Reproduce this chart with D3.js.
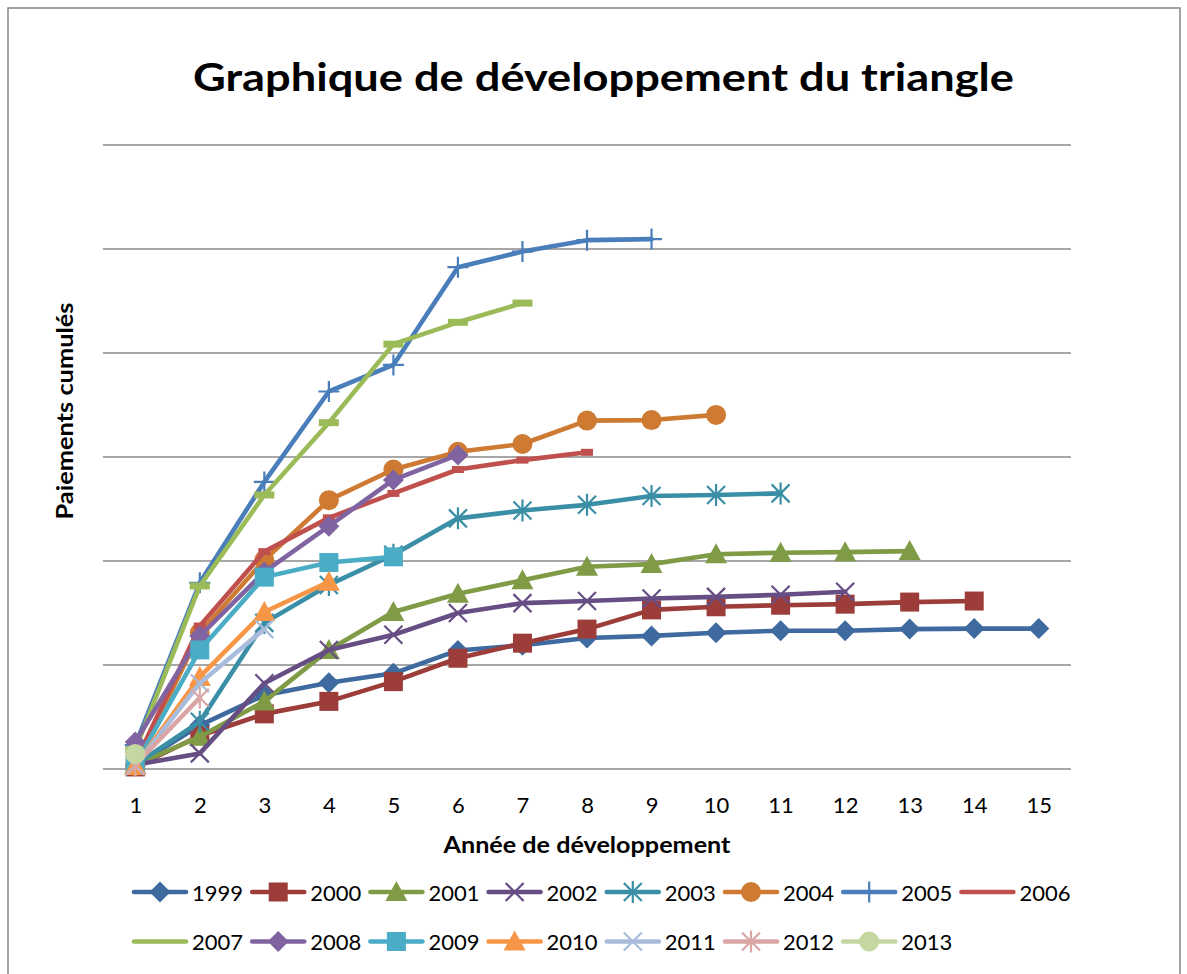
<!DOCTYPE html>
<html>
<head>
<meta charset="utf-8">
<script src="https://cdn.jsdelivr.net/npm/d3@7"></script>
<style>
  html, body { margin: 0; padding: 0; background: #fff; }
  svg { display: block; }
</style>
</head>
<body>
<svg id="chart" width="1187" height="974"></svg>
<script>
// ---------- DATA ----------
const devYears = [1, 2, 3, 4, 5, 6, 7, 8, 9, 10, 11, 12, 13, 14, 15];
const tickLabels = ["1","2","3","4","5","6","7","8","9","10","11","12","13","14","15"];
const years = ["1999","2000","2001","2002","2003","2004","2005","2006","2007","2008","2009","2010","2011","2012","2013"];

const s1999 = [30, 420, 710, 830, 920, 1140, 1190, 1260, 1280, 1310, 1330, 1330, 1345, 1350, 1350];
const s2000 = [20, 320, 530, 650, 840, 1065, 1210, 1345, 1530, 1560, 1575, 1585, 1605, 1615];
const s2001 = [40, 310, 650, 1145, 1510, 1685, 1815, 1945, 1970, 2065, 2080, 2085, 2095];
const s2002 = [40, 150, 825, 1145, 1290, 1500, 1595, 1615, 1640, 1655, 1675, 1705];
const s2003 = [40, 455, 1405, 1770, 2060, 2410, 2485, 2540, 2625, 2635, 2650];
const s2004 = [30, 1310, 2010, 2585, 2880, 3050, 3125, 3350, 3355, 3405];
const s2005 = [230, 1790, 2760, 3630, 3885, 4825, 4975, 5085, 5095];
const s2006 = [60, 1375, 2090, 2415, 2650, 2880, 2970, 3045];
const s2007 = [185, 1760, 2635, 3330, 4085, 4295, 4480];
const s2008 = [260, 1280, 1895, 2335, 2780, 3020];
const s2009 = [40, 1145, 1845, 1985, 2040];
const s2010 = [30, 885, 1510, 1800];
const s2011 = [30, 825, 1345];
const s2012 = [40, 685];
const s2013 = [145];

const seriesValues = [s1999, s2000, s2001, s2002, s2003, s2004, s2005, s2006, s2007, s2008, s2009, s2010, s2011, s2012, s2013];
const colors = ["#3E6A9F","#9C3D3A","#7F9B45","#664E84","#3A8FA6","#CE7A32","#4A7EBB","#C0504D","#9BBB59","#8064A2","#4BACC6","#F79646","#A9BCDB","#D9A6A5","#C4D7A1"];
const markers = ["diamond","square","triangle","x","star","circle","plus","shortdash","dash","diamond","square","triangle","x","star","circle"];
const yTicks = [0, 1000, 2000, 3000, 4000, 5000, 6000];

// ---------- LAYOUT ----------
const svg = d3.select("#chart");
const plot = { left: 103, right: 1071, top: 145, bottom: 769 };
const FONT = "Lato, 'Liberation Sans', Arial, sans-serif";

// chart border
svg.append("rect")
  .attr("x", 8).attr("y", 8).attr("width", 1172).attr("height", 1000)
  .attr("fill", "#fff").attr("stroke", "#868686").attr("stroke-width", 1.5);

const x = d3.scalePoint().domain(devYears).range([plot.left, plot.right]).padding(0.5);
const y = d3.scaleLinear().domain([0, 6000]).range([plot.bottom, plot.top]);

// gridlines
svg.append("g").selectAll("line").data(yTicks).join("line")
  .attr("x1", plot.left).attr("x2", plot.right)
  .attr("y1", d => y(d)).attr("y2", d => y(d))
  .attr("stroke", "#8A8A8A").attr("stroke-width", 1.6);

// x axis tick labels
const xAxis = d3.axisBottom(x).tickSize(0).tickPadding(0).tickFormat((d, i) => tickLabels[i]);
const gx = svg.append("g").attr("transform", `translate(0,${plot.bottom})`).call(xAxis);
gx.select(".domain").remove();
gx.selectAll("text")
  .attr("dy", null).attr("y", 44)
  .style("font-family", FONT).style("font-size", "22px").attr("fill", "#000");

// title
svg.append("text")
  .attr("x", 603.5).attr("y", 91).attr("text-anchor", "middle")
  .attr("textLength", 821).attr("lengthAdjust", "spacingAndGlyphs")
  .style("font-family", FONT).style("font-weight", "bold").style("font-size", "39px")
  .text("Graphique de développement du triangle");

// axis titles
svg.append("text")
  .attr("x", 587).attr("y", 853).attr("text-anchor", "middle")
  .attr("textLength", 287).attr("lengthAdjust", "spacingAndGlyphs")
  .style("font-family", FONT).style("font-weight", "bold").style("font-size", "22px")
  .text("Année de développement");

svg.append("text")
  .attr("transform", "translate(73,411) rotate(-90)").attr("text-anchor", "middle")
  .attr("textLength", 217).attr("lengthAdjust", "spacingAndGlyphs")
  .style("font-family", FONT).style("font-weight", "bold").style("font-size", "22px")
  .text("Paiements cumulés");

// marker drawer
function drawMarker(g, type, cx, cy, color) {
  const sw = 2.2;
  if (type === "diamond") {
    g.append("path").attr("d", `M${cx},${cy-10.5}L${cx+10.5},${cy}L${cx},${cy+10.5}L${cx-10.5},${cy}Z`).attr("fill", color);
  } else if (type === "square") {
    g.append("rect").attr("x", cx-9.5).attr("y", cy-9.5).attr("width", 19).attr("height", 19).attr("fill", color);
  } else if (type === "triangle") {
    g.append("path").attr("d", `M${cx},${cy-11}L${cx+11},${cy+9}L${cx-11},${cy+9}Z`).attr("fill", color);
  } else if (type === "circle") {
    g.append("circle").attr("cx", cx).attr("cy", cy).attr("r", 10).attr("fill", color);
  } else if (type === "x" || type === "star") {
    const h = 9;
    g.append("path").attr("d", `M${cx-h},${cy-h}L${cx+h},${cy+h}M${cx-h},${cy+h}L${cx+h},${cy-h}` + (type === "star" ? `M${cx},${cy-h-2}L${cx},${cy+h+2}` : ""))
      .attr("stroke", color).attr("stroke-width", sw).attr("fill", "none");
  } else if (type === "plus") {
    const h = 10.5;
    g.append("path").attr("d", `M${cx-h},${cy}L${cx+h},${cy}M${cx},${cy-h}L${cx},${cy+h}`)
      .attr("stroke", color).attr("stroke-width", sw).attr("fill", "none");
  } else if (type === "dash") {
    g.append("rect").attr("x", cx-10).attr("y", cy-3.5).attr("width", 20).attr("height", 7).attr("fill", color);
  } else if (type === "shortdash") {
    g.append("rect").attr("x", cx-6).attr("y", cy-3.5).attr("width", 12).attr("height", 7).attr("fill", color);
  }
}

// series
const line = d3.line().x((d, i) => x(devYears[i])).y(d => y(d));
const seriesG = svg.append("g");
seriesValues.forEach((vals, si) => {
  const g = seriesG.append("g");
  g.append("path").datum(vals).attr("d", line)
    .attr("fill", "none").attr("stroke", colors[si]).attr("stroke-width", 4.6)
    .attr("stroke-linejoin", "round").attr("stroke-linecap", "round");
  vals.forEach((v, i) => drawMarker(g, markers[si], x(devYears[i]), y(v), colors[si]));
});

// legend
const legendStartX = 134, legendStep = 118.2;
const legendRows = [892, 941.5];
years.forEach((yr, i) => {
  const row = i < 8 ? 0 : 1;
  const col = i < 8 ? i : i - 8;
  const lx = legendStartX + col * legendStep;
  const ly = legendRows[row];
  const g = svg.append("g");
  g.append("line").attr("x1", lx).attr("x2", lx + 52).attr("y1", ly).attr("y2", ly)
    .attr("stroke", colors[i]).attr("stroke-width", 4.6).attr("stroke-linecap", "round");
  if (markers[i] !== "dash" && markers[i] !== "shortdash") drawMarker(g, markers[i], lx + 26, ly, colors[i]);
  g.append("text").attr("x", lx + 58).attr("y", ly + 8.5)
    .style("font-family", FONT).style("font-size", "22px").attr("fill", "#000")
    .text(yr);
});
</script>
</body>
</html>
